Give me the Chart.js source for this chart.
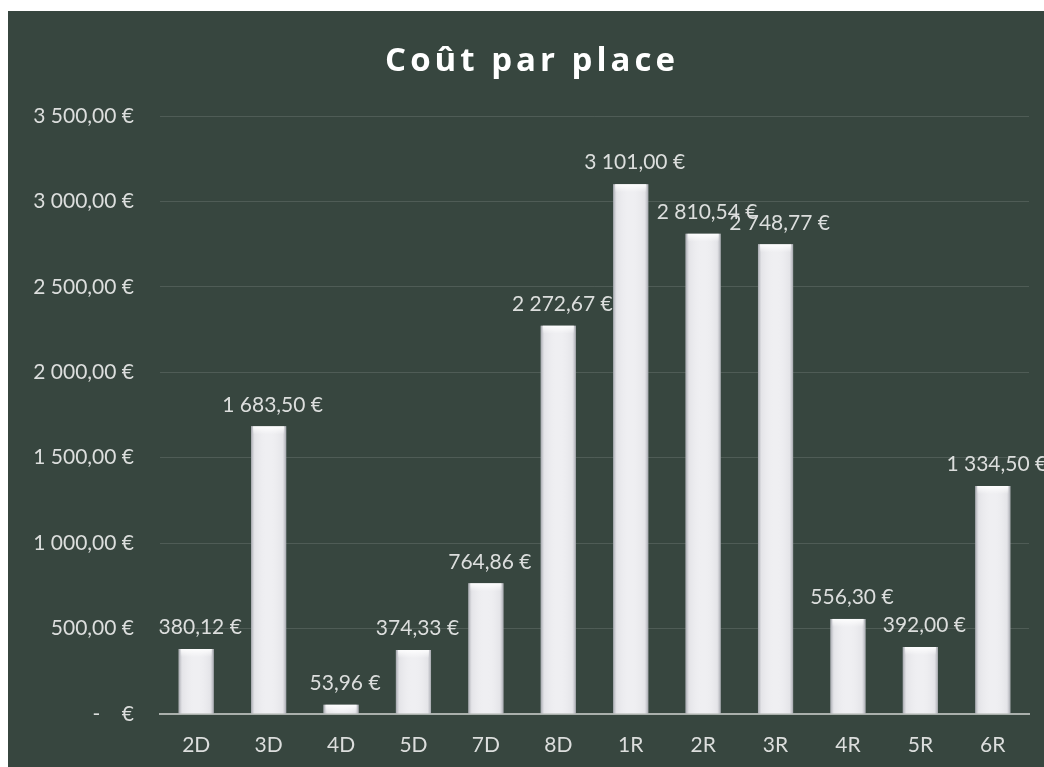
<!DOCTYPE html>
<html>
<head>
<meta charset="utf-8">
<script src="https://cdn.jsdelivr.net/npm/chart.js@4/dist/chart.umd.min.js"></script>
<style>
  html, body { margin: 0; padding: 0; background: #ffffff; }
  #wrap { position: absolute; left: 8px; top: 11px; width: 1036px; height: 756px; background: #37463f; }
</style>
</head>
<body>
<div id="wrap"><canvas id="c" width="1036" height="756"></canvas></div>
<script>
const categories = ['2D', '3D', '4D', '5D', '7D', '8D', '1R', '2R', '3R', '4R', '5R', '6R'];
const costs = [380.12, 1683.50, 53.96, 374.33, 764.86, 2272.67, 3101.00, 2810.54, 2748.77, 556.30, 392.00, 1334.50];
const yTicks = [0, 500, 1000, 1500, 2000, 2500, 3000, 3500];
const chartTitle = 'Coût par place';

function fmtEuro(v) {
  if (v === 0) return '-    €';
  const parts = v.toFixed(2).split('.');
  const intPart = parts[0].replace(/\B(?=(\d{3})+(?!\d))/g, ' ');
  return intPart + ',' + parts[1] + ' €';
}

const FONT = 'Lato, "Open Sans", sans-serif';
const TEXT = '#dcdedd';

const titlePlugin = {
  id: 'spacedTitle',
  afterDraw(chart) {
    const ctx = chart.ctx;
    ctx.save();
    ctx.font = 'bold 33px "Open Sans", sans-serif';
    ctx.fillStyle = '#ffffff';
    ctx.textAlign = 'center';
    ctx.textBaseline = 'middle';
    try { ctx.letterSpacing = '4px'; } catch (e) {}
    ctx.fillText(chartTitle, chart.width / 2 + 6, 51);
    ctx.restore();
  }
};

const barShade = {
  id: 'barShade',
  afterDatasetsDraw(chart) {
    const ctx = chart.ctx;
    const meta = chart.getDatasetMeta(0);
    meta.data.forEach((bar) => {
      const left = bar.x - bar.width / 2;
      const right = bar.x + bar.width / 2;
      const top = Math.min(bar.y, bar.base);
      const bottom = Math.max(bar.y, bar.base);
      ctx.save();
      const g = ctx.createLinearGradient(left, 0, right, 0);
      g.addColorStop(0, 'rgba(90,95,105,0.5)');
      g.addColorStop(0.1, 'rgba(150,150,160,0.12)');
      g.addColorStop(0.5, 'rgba(255,255,255,0)');
      g.addColorStop(0.9, 'rgba(150,150,160,0.12)');
      g.addColorStop(1, 'rgba(90,95,105,0.5)');
      ctx.fillStyle = g;
      ctx.fillRect(left, top, right - left, bottom - top);
      const h = Math.min(8, bottom - top);
      const g2 = ctx.createLinearGradient(0, top, 0, top + h);
      g2.addColorStop(0, 'rgba(255,255,255,0.9)');
      g2.addColorStop(1, 'rgba(255,255,255,0)');
      ctx.fillStyle = g2;
      ctx.fillRect(left + 2, top, right - left - 4, h);
      ctx.restore();
    });
  }
};

const valueLabels = {
  id: 'valueLabels',
  afterDatasetsDraw(chart) {
    const ctx = chart.ctx;
    const meta = chart.getDatasetMeta(0);
    ctx.save();
    ctx.font = '21px ' + FONT;
    ctx.fillStyle = TEXT;
    ctx.textAlign = 'center';
    ctx.textBaseline = 'bottom';
    meta.data.forEach((bar, i) => {
      ctx.fillText(fmtEuro(costs[i]), bar.x + 4, bar.y - 11);
    });
    ctx.restore();
  }
};

new Chart(document.getElementById('c'), {
  type: 'bar',
  data: {
    labels: categories,
    datasets: [{
      data: costs,
      backgroundColor: '#efeff2',
      borderWidth: 0,
      barPercentage: 0.5,
      categoryPercentage: 0.97
    }]
  },
  options: {
    responsive: false,
    animation: false,
    layout: { padding: { left: 0, right: 15, top: 105, bottom: 0 } },
    plugins: {
      legend: { display: false },
      tooltip: { enabled: false },
      title: { display: false }
    },
    scales: {
      x: {
        afterFit(scale) { scale.height = 53; },
        grid: { display: false, drawTicks: false },
        border: { display: true, color: 'rgba(190,195,192,0.85)', width: 2 },
        ticks: { color: TEXT, font: { family: FONT, size: 21 }, padding: 19 }
      },
      y: {
        min: 0,
        max: 3500,
        afterBuildTicks(scale) { scale.ticks = yTicks.map(v => ({ value: v })); },
        afterFit(scale) { scale.width = 152; },
        grid: { color: (c) => c.tick && c.tick.value === 0 ? 'rgba(0,0,0,0)' : 'rgba(255,255,255,0.12)', drawTicks: false, lineWidth: 1 },
        border: { display: false },
        ticks: {
          color: TEXT,
          font: { family: FONT, size: 21 },
          padding: 26,
          callback: (v) => fmtEuro(v)
        }
      }
    }
  },
  plugins: [barShade, valueLabels, titlePlugin]
});
</script>
</body>
</html>
